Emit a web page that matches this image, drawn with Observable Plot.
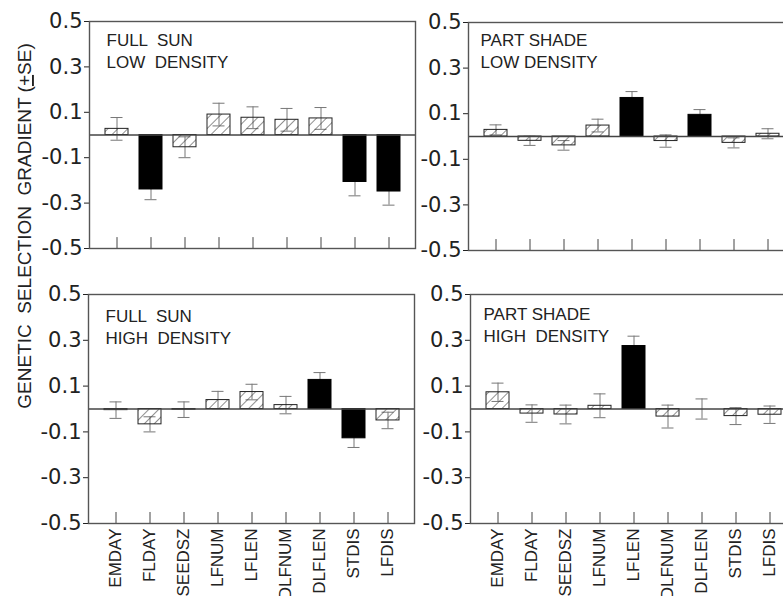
<!DOCTYPE html>
<html>
<head>
<meta charset="utf-8">
<script src="https://cdn.jsdelivr.net/npm/d3@7"></script>
<script src="https://cdn.jsdelivr.net/npm/@observablehq/plot@0.6"></script>
<style>
  html, body { margin: 0; padding: 0; background: #fff; overflow: hidden; }
  #wrap { position: relative; width: 783px; height: 596px; overflow: hidden; font-family: "Liberation Sans", Arial, sans-serif; }
  #wrap svg.panel { position: absolute; overflow: visible; }
  #wrap svg text { white-space: pre; }
</style>
</head>
<body>
<div id="wrap">
  <svg width="0" height="0" style="position:absolute">
    <defs>
      <pattern id="hatch" patternUnits="userSpaceOnUse" width="7" height="7" patternTransform="rotate(45)">
        <line x1="0" y1="-1" x2="0" y2="8" stroke="#333" stroke-width="1.1"></line>
      </pattern>
    </defs>
  </svg>
  <svg id="ytitle" class="panel" width="40" height="596" style="left:0;top:0">
    <text transform="translate(31,226) rotate(-90)" text-anchor="middle" font-family="Liberation Sans, Arial, sans-serif" font-size="19" fill="#222">GENETIC  SELECTION  GRADIENT (<tspan text-decoration="underline">+</tspan>SE)</text>
  </svg>
</div>
<script>
const traits = ["EMDAY", "FLDAY", "SEEDSZ", "LFNUM", "LFLEN", "DLFNUM", "DLFLEN", "STDIS", "LFDIS"];
const yTicks = [-0.5, -0.3, -0.1, 0.1, 0.3, 0.5];

// Full sun, low density
const sunLowValues = [0.027, -0.240, -0.054, 0.090, 0.076, 0.067, 0.073, -0.207, -0.249];
const sunLowSE     = [0.050, 0.045, 0.046, 0.050, 0.048, 0.050, 0.048, 0.061, 0.060];
const sunLowSig    = [false, true, false, false, false, false, false, true, true];

// Part shade, low density
const shadeLowValues = [0.029, -0.019, -0.039, 0.048, 0.169, -0.020, 0.095, -0.028, 0.012];
const shadeLowSE     = [0.022, 0.020, 0.021, 0.028, 0.028, 0.027, 0.023, 0.022, 0.022];
const shadeLowSig    = [false, false, false, false, true, false, true, false, false];

// Full sun, high density
const sunHighValues = [-0.005, -0.067, -0.003, 0.039, 0.074, 0.017, 0.127, -0.128, -0.050];
const sunHighSE     = [0.036, 0.033, 0.034, 0.038, 0.034, 0.038, 0.032, 0.040, 0.036];
const sunHighSig    = [false, false, false, false, false, false, true, true, false];

// Part shade, high density
const shadeHighValues = [0.073, -0.020, -0.024, 0.014, 0.275, -0.033, 0.000, -0.031, -0.025];
const shadeHighSE     = [0.040, 0.038, 0.041, 0.052, 0.043, 0.050, 0.044, 0.037, 0.038];
const shadeHighSig    = [false, false, false, false, true, false, false, false, false];

const panels = [
  {label: "FULL  SUN\nLOW  DENSITY", values: sunLowValues, se: sunLowSE, sig: sunLowSig, left: 29, top: 9, h: 227, bottom: false, dx: 17, dy: 9},
  {label: "PART SHADE\nLOW DENSITY", values: shadeLowValues, se: shadeLowSE, sig: shadeLowSig, left: 408, top: 10, h: 228, bottom: false, dx: 12, dy: 8},
  {label: "FULL  SUN\nHIGH  DENSITY", values: sunHighValues, se: sunHighSE, sig: sunHighSig, left: 28, top: 282, h: 229, bottom: true, dx: 17, dy: 12},
  {label: "PART SHADE\nHIGH  DENSITY", values: shadeHighValues, se: shadeHighSE, sig: shadeHighSig, left: 410, top: 282, h: 229, bottom: true, dx: 13, dy: 10}
];

const wrap = document.getElementById("wrap");
const mL = 60, mR = 2, mT = 12, frameW = 326;

for (const p of panels) {
  const data = traits.map((t, i) => ({trait: t, v: p.values[i], se: p.se[i], sig: p.sig[i]}));
  const mB = p.bottom ? 80 : 12;
  const chart = Plot.plot({
    width: mL + frameW + mR,
    height: mT + p.h + mB,
    marginLeft: mL, marginRight: mR, marginTop: mT, marginBottom: mB,
    style: {fontFamily: "Liberation Sans, Arial, sans-serif", fontSize: "21px", color: "#222", background: "transparent", overflow: "visible"},
    x: {domain: traits, paddingInner: 0.33, paddingOuter: 0.39, label: null,
        axis: p.bottom ? "bottom" : null, tickSize: 0, tickPadding: 5, tickRotate: -90},
    y: {domain: [-0.5, 0.5], ticks: yTicks, tickFormat: d => d.toFixed(1), tickSize: 5, tickPadding: 2, label: null},
    marks: [
      Plot.ruleX(data, {x: "trait", y1: d => d.v - d.se, y2: d => d.v + d.se, stroke: "#777", strokeWidth: 1}),
      Plot.tickY(data, {x: "trait", y: d => d.v + d.se, stroke: "#777", strokeWidth: 1, insetLeft: 5.5, insetRight: 5.5}),
      Plot.tickY(data, {x: "trait", y: d => d.v - d.se, stroke: "#777", strokeWidth: 1, insetLeft: 5.5, insetRight: 5.5}),
      Plot.barY(data.filter(d => !d.sig), {x: "trait", y1: 0, y2: "v", fill: "url(#hatch)", stroke: "#222", strokeWidth: 1}),
      Plot.barY(data.filter(d => d.sig), {x: "trait", y1: 0, y2: "v", fill: "#000", stroke: "#000", strokeWidth: 1}),
      Plot.ruleY([0], {stroke: "#444", strokeWidth: 1.3}),
      Plot.ruleX(traits, {x: d => d, y1: -0.5, y2: -0.452, stroke: "#444", strokeWidth: 1}),
      Plot.frame({stroke: "#555", strokeWidth: 1.4}),
      Plot.text([p.label], {frameAnchor: "top-left", text: d => d, dx: p.dx, dy: p.dy, lineAnchor: "top", lineHeight: 1.28, fontSize: 17, fill: "#222"})
    ]
  });
  chart.classList.add("panel");
  chart.style.left = p.left + "px";
  chart.style.top = p.top + "px";
  chart.querySelectorAll('[aria-label^="x-axis"]').forEach(g => g.setAttribute("font-size", "17"));
  chart.querySelectorAll('[aria-label^="x-axis"] text').forEach(t => t.setAttribute("font-size", "17"));
  chart.querySelectorAll('[aria-label^="y-axis"]').forEach(g => g.setAttribute("font-family", "DejaVu Sans, sans-serif"));
  chart.querySelectorAll('[aria-label^="y-axis"] text').forEach(t => t.setAttribute("font-family", "DejaVu Sans, sans-serif"));
  wrap.appendChild(chart);
}
</script>
</body>
</html>
